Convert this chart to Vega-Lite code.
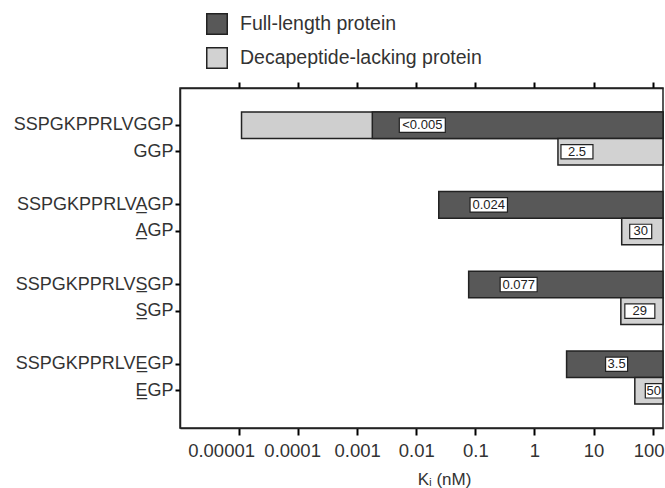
{
  "$schema": "https://vega.github.io/schema/vega-lite/v6.json",
  "autosize": {"type": "none"},
  "padding": {"left": 180, "top": 88, "right": 2, "bottom": 60},
  "width": 483,
  "height": 340,
  "background": "white",
  "config": {
    "font": "Liberation Sans",
    "view": {"stroke": "#222", "strokeWidth": 1.5},
    "axis": {"domainColor": "#222", "domainWidth": 1.5, "labelColor": "#333", "titleColor": "#333"}
  },
  "datasets": {
    "ki": [
      {"peptide": "SSPGKPPRLVGGP", "protein": "Full-length protein", "ki": 0.0018, "label": "<0.005"},
      {"peptide": "GGP", "protein": "Decapeptide-lacking protein", "ki": 2.5, "label": "2.5"},
      {"peptide": "SSPGKPPRLVA\u0332GP", "protein": "Full-length protein", "ki": 0.024, "label": "0.024"},
      {"peptide": "A\u0332GP", "protein": "Decapeptide-lacking protein", "ki": 30, "label": "30"},
      {"peptide": "SSPGKPPRLVS\u0332GP", "protein": "Full-length protein", "ki": 0.077, "label": "0.077"},
      {"peptide": "S\u0332GP", "protein": "Decapeptide-lacking protein", "ki": 29, "label": "29"},
      {"peptide": "SSPGKPPRLVE\u0332GP", "protein": "Full-length protein", "ki": 3.5, "label": "3.5"},
      {"peptide": "E\u0332GP", "protein": "Decapeptide-lacking protein", "ki": 50, "label": "50"}
    ],
    "range": [
      {"peptide": "SSPGKPPRLVGGP", "lower": 0.000011}
    ]
  },
  "encoding": {
    "y": {
      "field": "peptide", "type": "nominal",
      "scale": {
        "domain": ["SSPGKPPRLVGGP", "GGP", "gap1", "SSPGKPPRLVA\u0332GP", "A\u0332GP", "gap2", "SSPGKPPRLVS\u0332GP", "S\u0332GP", "gap3", "SSPGKPPRLVE\u0332GP", "E\u0332GP"],
        "paddingInner": 0, "paddingOuter": 0.9
      },
      "axis": {
        "title": null,
        "values": ["SSPGKPPRLVGGP", "GGP", "SSPGKPPRLVA\u0332GP", "A\u0332GP", "SSPGKPPRLVS\u0332GP", "S\u0332GP", "SSPGKPPRLVE\u0332GP", "E\u0332GP"],
        "labelFontSize": 18, "tickSize": 5, "tickColor": "black", "tickWidth": 2, "labelPadding": 2, "domain": true, "labelLimit": 0
      }
    }
  },
  "resolve": {"axis": {"x": "independent"}},
  "layer": [
    {
      "data": {"name": "range"},
      "mark": {"type": "bar", "fill": "#cfcfcf", "stroke": "#222", "strokeWidth": 1.5},
      "encoding": {
        "x": {
          "field": "lower", "type": "quantitative",
          "scale": {"type": "log", "domain": [0.000001, 150], "nice": false},
          "axis": {"orient": "top", "labels": false, "domain": true, "ticks": true, "tickSize": 6, "tickWidth": 2, "tickColor": "black", "grid": false, "title": null,
                   "values": [0.00001, 0.0001, 0.001, 0.01, 0.1, 1, 10, 100]}
        },
        "x2": {"datum": 150}
      }
    },
    {
      "data": {"name": "ki"},
      "mark": {"type": "bar", "stroke": "#222", "strokeWidth": 1.5},
      "encoding": {
        "x": {
          "field": "ki", "type": "quantitative",
          "scale": {"type": "log", "domain": [0.000001, 150], "nice": false},
          "axis": {
            "orient": "bottom",
            "values": [0.00001, 0.0001, 0.001, 0.01, 0.1, 1, 10, 100],
            "labelExpr": "datum.value >= 1 ? format(datum.value, 'd') : format(datum.value, '.5~f')",
            "labelOverlap": false, "labelBound": false,
            "labelOffset": {"condition": [
              {"test": "datum.value < 0.00005", "value": -18},
              {"test": "datum.value < 0.0005", "value": -6},
              {"test": "datum.value > 50", "value": -4}
            ], "value": 0},
            "grid": false,
            "tickColor": "black", "tickWidth": 2,
            "labelFontSize": 18.5, "tickSize": 7, "labelPadding": 6,
            "title": "K\u1d62 (nM)", "titleFontSize": 17, "titleFontWeight": "normal",
            "titleX": 264, "titleY": 51, "titleBaseline": "middle"
          }
        },
        "x2": {"datum": 150},
        "color": {
          "field": "protein", "type": "nominal",
          "scale": {"domain": ["Full-length protein", "Decapeptide-lacking protein"], "range": ["#585858", "#d2d2d2"]},
          "legend": {
            "title": null, "orient": "none", "legendX": 26, "legendY": -75, "padding": 0,
            "symbolType": "square", "symbolSize": 420, "symbolStrokeColor": "#222", "symbolStrokeWidth": 1.5,
            "labelFontSize": 19.5, "labelColor": "#333", "labelOffset": 12, "rowPadding": 6, "labelLimit": 0
          }
        }
      }
    },
    {
      "data": {"name": "ki"},
      "transform": [{"filter": "datum.protein == 'Full-length protein'"}],
      "mark": {"type": "point", "filled": true, "fill": "white", "stroke": "#222", "strokeWidth": 1.2, "opacity": 1, "size": 400, "xOffset": 50},
      "encoding": {
        "x": {"field": "ki", "type": "quantitative", "axis": null},
        "shape": {
          "field": "label", "type": "nominal", "legend": null,
          "scale": {
            "domain": ["<0.005", "0.024", "0.077", "3.5", "2.5", "30", "29", "50"],
            "range": ["M-2.3,-0.72H2.3V0.72H-2.3Z", "M-1.87,-0.72H1.87V0.72H-1.87Z", "M-1.85,-0.72H1.85V0.72H-1.85Z", "M-1.1,-0.72H1.1V0.72H-1.1Z", "M-1.6,-0.72H1.6V0.72H-1.6Z", "M-1.1,-0.72H1.1V0.72H-1.1Z", "M-1.5,-0.72H1.5V0.72H-1.5Z", "M-0.85,-0.72H0.85V0.72H-0.85Z"]
          }
        }
      }
    },
    {
      "data": {"name": "ki"},
      "transform": [{"filter": "datum.protein != 'Full-length protein'"}],
      "mark": {"type": "point", "filled": true, "fill": "white", "stroke": "#222", "strokeWidth": 1.2, "opacity": 1, "size": 400, "xOffset": 19},
      "encoding": {
        "x": {"field": "ki", "type": "quantitative", "axis": null},
        "shape": {"field": "label", "type": "nominal", "legend": null}
      }
    },
    {
      "data": {"name": "ki"},
      "transform": [{"filter": "datum.protein == 'Full-length protein'"}],
      "mark": {"type": "text", "fontSize": 13, "color": "#222", "align": "center", "baseline": "middle", "xOffset": 50},
      "encoding": {
        "x": {"field": "ki", "type": "quantitative", "axis": null},
        "text": {"field": "label"}
      }
    },
    {
      "data": {"name": "ki"},
      "transform": [{"filter": "datum.protein != 'Full-length protein'"}],
      "mark": {"type": "text", "fontSize": 13, "color": "#222", "align": "center", "baseline": "middle", "xOffset": 19},
      "encoding": {
        "x": {"field": "ki", "type": "quantitative", "axis": null},
        "text": {"field": "label"}
      }
    }
  ]
}
